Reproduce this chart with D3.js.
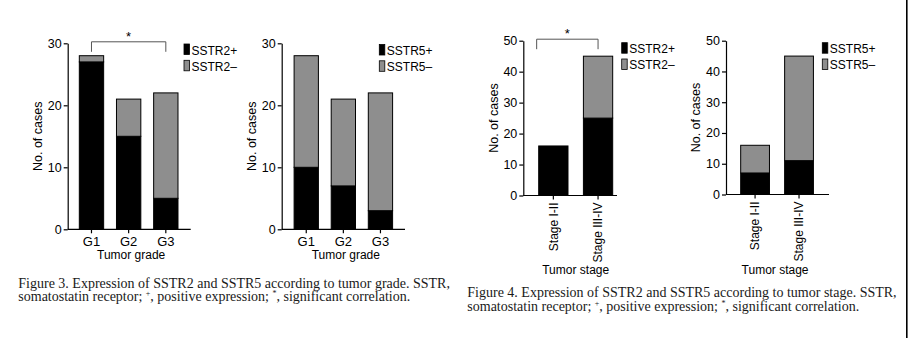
<!DOCTYPE html>
<html>
<head>
<meta charset="utf-8">
<script src="https://cdn.jsdelivr.net/npm/d3@7"></script>
<style>
  body { margin: 0; background: #fff; }
  svg { display: block; }
  .tick text { font-family: "Liberation Sans", Arial, sans-serif; }
</style>
</head>
<body>
<div id="fig"></div>
<script>
// data
const grades = ["G1", "G2", "G3"];
const sstr2GradePos = [27, 15, 5];
const sstr2GradeNeg = [1, 6, 17];
const sstr5GradePos = [10, 7, 3];
const sstr5GradeNeg = [18, 14, 19];

const stages = ["Stage I-II", "Stage III-IV"];
const sstr2StagePos = [16, 25];
const sstr2StageNeg = [0, 20];
const sstr5StagePos = [7, 11];
const sstr5StageNeg = [9, 34];

const gradeTicks = [0, 10, 20, 30];
const stageTicks = [0, 10, 20, 30, 40, 50];

const caption3 = "Figure 3. Expression of SSTR2 and SSTR5 according to tumor grade. SSTR,";
const caption4 = "Figure 4. Expression of SSTR2 and SSTR5 according to tumor stage. SSTR,";

let width = 908, height = 338;
const black = "#000", grey = "#8e8e8e";
const sans = "'Liberation Sans', Arial, sans-serif";

const svg = d3.select("#fig").append("svg")
    .attr("width", width)
    .attr("height", height);

svg.append("rect").attr("width", width).attr("height", height).attr("fill", "#fff");

// panel layouts
let panels = [
  {cats: grades, pos: sstr2GradePos, neg: sstr2GradeNeg, ticks: gradeTicks, name: "SSTR2",
   axisX: 67.7, axisEnd: 190.7, band: [72.9, 184.4], y0: 229.3, y1: 43.3,
   legendX: 184, legendY: 44, title: "Tumor grade", titleY: 258.5, titleShift: 2.5,
   bracket: {from: 0, fromF: 0.5, to: 2, toF: 0.5}},
  {cats: grades, pos: sstr5GradePos, neg: sstr5GradeNeg, ticks: gradeTicks, name: "SSTR5",
   axisX: 281.7, axisEnd: 405, band: [287.7, 399], y0: 229.3, y1: 43.3,
   legendX: 379.3, legendY: 44.5, title: "Tumor grade", titleY: 258.5, titleShift: 2.5},
  {cats: stages, pos: sstr2StagePos, neg: sstr2StageNeg, ticks: stageTicks, name: "SSTR2",
   axisX: 523.3, axisEnd: 617, band: [531, 620.4], y0: 195.5, y1: 40.7, rotate: true,
   legendX: 621.7, legendY: 42.7, title: "Tumor stage", titleY: 273.5, titleShift: 0,
   bracket: {from: 0, fromF: -0.07, to: 1, toF: 0.5}},
  {cats: stages, pos: sstr5StagePos, neg: sstr5StageNeg, ticks: stageTicks, name: "SSTR5",
   axisX: 726, axisEnd: 829, band: [733.1, 821], y0: 194.5, y1: 40.7, rotate: true,
   legendX: 822.3, legendY: 42.7, title: "Tumor stage", titleY: 273.5, titleShift: -2}
];

panels.forEach(function(p) {
  const ymax = d3.max(p.ticks);
  let x = d3.scaleBand()
            .domain(p.cats)
            .range(p.band)
            .paddingInner(0.345)
            .paddingOuter(0.1725);
  let y = d3.scaleLinear()
            .domain([0, ymax])
            .range([p.y0, p.y1]);

  const g = svg.append("g");

  // stacked bars
  const rows = p.cats.map((c, i) => ({cat: c, pos: p.pos[i], neg: p.neg[i]}));
  const stack = d3.stack().keys(["pos", "neg"])(rows);
  g.selectAll("g.layer")
    .data(stack)
    .join("g")
    .attr("class", "layer")
    .attr("fill", (d, i) => i === 0 ? black : grey)
    .selectAll("rect")
    .data(d => d.filter(s => s[1] > s[0]))
    .join("rect")
    .attr("x", d => x(d.data.cat))
    .attr("y", d => y(d[1]))
    .attr("width", x.bandwidth())
    .attr("height", d => y(d[0]) - y(d[1]))
    .attr("stroke", black)
    .attr("stroke-width", 1);

  // y axis
  const ya = g.append("g")
    .attr("transform", `translate(${p.axisX},0)`)
    .call(d3.axisLeft(y).tickValues(p.ticks).tickSize(4).tickSizeOuter(0).tickPadding(2));
  ya.selectAll("text").attr("font-size", 12.5).attr("fill", black);
  ya.selectAll("line, path").attr("stroke", black).attr("stroke-width", 1.2);

  // x axis
  const xa = g.append("g")
    .attr("transform", `translate(0,${p.y0})`)
    .call(d3.axisBottom(x).tickSize(4).tickSizeOuter(0).tickPadding(3));
  xa.select(".domain").remove();
  xa.selectAll("line").attr("stroke", black).attr("stroke-width", 1.2);
  xa.selectAll("text").attr("font-size", 13).attr("fill", black);
  if (p.rotate) {
    xa.selectAll("text")
      .attr("transform", "rotate(-90)")
      .attr("x", -7)
      .attr("y", 0)
      .attr("dy", "0.35em")
      .attr("text-anchor", "end")
      .attr("font-size", 12);
  }
  g.append("line")
    .attr("x1", p.axisX).attr("x2", p.axisEnd)
    .attr("y1", p.y0).attr("y2", p.y0)
    .attr("stroke", black).attr("stroke-width", 1.2);

  // axis titles
  g.append("text")
    .attr("x", (x(p.cats[0]) + x(p.cats[p.cats.length - 1]) + x.bandwidth()) / 2 + p.titleShift)
    .attr("y", p.titleY)
    .attr("text-anchor", "middle")
    .attr("font-family", sans).attr("font-size", 12)
    .text(p.title);
  g.append("text")
    .attr("transform", `translate(${p.axisX - 30},${(p.y0 + p.y1) / 2}) rotate(-90)`)
    .attr("text-anchor", "middle")
    .attr("dy", "0.35em")
    .attr("font-family", sans).attr("font-size", 12.5)
    .text("No. of cases");

  // legend
  const leg = g.append("g").attr("transform", `translate(${p.legendX},${p.legendY})`);
  ["+", "\u2013"].forEach(function(sign, i) {
    leg.append("rect")
      .attr("x", 0).attr("y", i * 16.3)
      .attr("width", 5.5).attr("height", 10.5)
      .attr("fill", i === 0 ? black : grey)
      .attr("stroke", black).attr("stroke-width", 0.8);
    leg.append("text")
      .attr("x", 7.5).attr("y", i * 16.3 + 10.5)
      .attr("font-family", sans).attr("font-size", 12)
      .text(p.name + sign);
  });

  // significance bracket
  if (p.bracket) {
    const b = p.bracket;
    const bx1 = x(p.cats[b.from]) + b.fromF * x.bandwidth();
    const bx2 = x(p.cats[b.to]) + b.toF * x.bandwidth();
    const top = p.y1 - 1.5;
    g.append("path")
      .attr("d", d3.line()([[bx1, top + 10], [bx1, top], [bx2, top], [bx2, top + 10]]))
      .attr("fill", "none").attr("stroke", "#555").attr("stroke-width", 1);
    g.append("text")
      .attr("x", (bx1 + bx2) / 2).attr("y", top - 1)
      .attr("text-anchor", "middle")
      .attr("font-family", sans).attr("font-size", 13)
      .text("*");
  }
});

// captions
function caption(line1, x0, yBase) {
  const serif = "'Liberation Serif', 'Times New Roman', serif";
  svg.append("text")
    .attr("x", x0).attr("y", yBase)
    .attr("font-family", serif).attr("font-size", 14).attr("fill", "#1a1a1a")
    .text(line1);
  const t = svg.append("text")
    .attr("x", x0).attr("y", yBase + 13.5)
    .attr("font-family", serif).attr("font-size", 14).attr("fill", "#1a1a1a");
  t.append("tspan").text("somatostatin receptor; ");
  t.append("tspan").attr("font-size", 8).attr("dy", -5).text("+");
  t.append("tspan").attr("dy", 5).text(", positive expression; ");
  t.append("tspan").attr("font-size", 8).attr("dy", -5).text("*");
  t.append("tspan").attr("dy", 5).text(", significant correlation.");
}
caption(caption3, 18.3, 287.5);
caption(caption4, 467.3, 297);

// right border
svg.append("line")
  .attr("x1", 906.8).attr("x2", 906.8)
  .attr("y1", 0).attr("y2", height)
  .attr("stroke", black).attr("stroke-width", 1.6);
</script>
</body>
</html>
